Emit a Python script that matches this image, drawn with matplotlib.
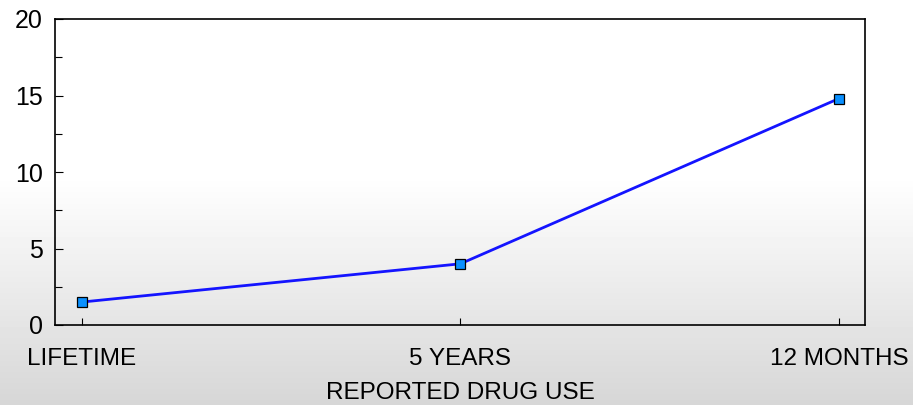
import matplotlib.pyplot as plt
import numpy as np
from matplotlib.ticker import MultipleLocator

plt.rcParams['font.family'] = ['Liberation Sans', 'DejaVu Sans']

categories = ['LIFETIME', '5 YEARS', '12 MONTHS']
values = [1.5, 4.0, 14.8]

fig = plt.figure(figsize=(9.13, 4.05), dpi=100)

# gradient background: white on top, grey toward bottom
bg = fig.add_axes([0, 0, 1, 1], zorder=0)
rows = 405
start = 175
t = np.clip((np.arange(rows) - start) / (rows - start), 0, 1)
g = 1.0 - 0.16 * t
img = np.repeat(g[:, None], 2, axis=1)
bg.imshow(img, cmap='gray', vmin=0, vmax=1, aspect='auto', extent=[0, 1, 0, 1], origin='upper')
bg.axis('off')

ax = fig.add_axes([55 / 913, 1 - 325 / 405, 810 / 913, 306 / 405], zorder=1)
ax.patch.set_alpha(0)

x = np.arange(len(categories))
ax.plot(x, values, color='#1414ff', lw=2.0, marker='s', markersize=6.5,
        markerfacecolor='#0a90ff', markeredgecolor='black', markeredgewidth=0.9)

ax.set_xlim(-0.071, 2.069)
ax.set_ylim(0, 20)
ax.set_xticks(x)
ax.set_xticklabels(categories)
ax.yaxis.set_major_locator(MultipleLocator(5))
ax.yaxis.set_minor_locator(MultipleLocator(2.5))
ax.tick_params(axis='y', which='major', direction='in', length=6, width=0.8, pad=9, labelsize=18)
ax.tick_params(axis='y', which='minor', direction='in', length=5, width=0.8)
ax.tick_params(axis='x', direction='in', length=5, width=0.8, pad=16.5, labelsize=17.5)
for s in ax.spines.values():
    s.set_linewidth(1.2)
ax.set_xlabel('REPORTED DRUG USE', fontsize=17.5, labelpad=9)

fig.savefig('out.png', dpi=100)
